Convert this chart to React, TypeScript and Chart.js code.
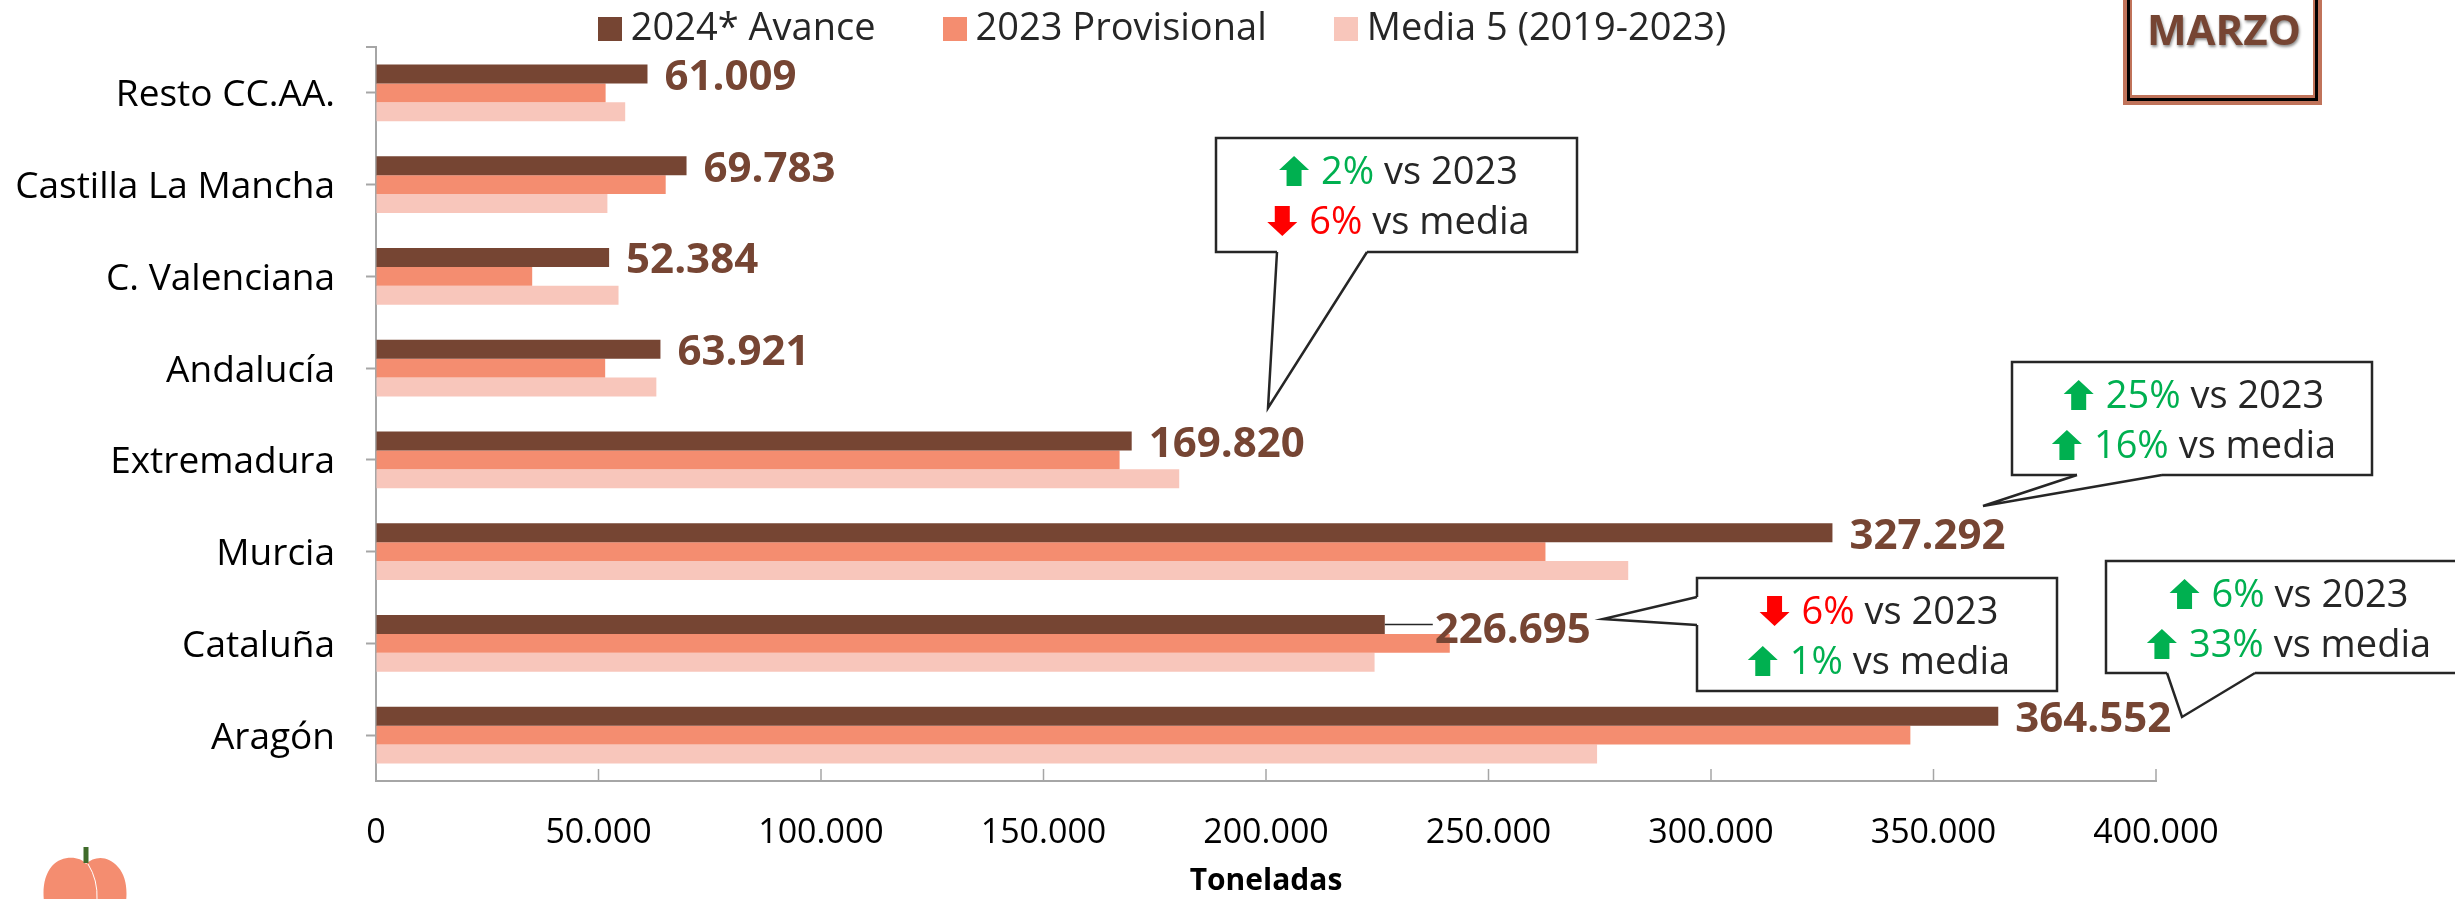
import React, { useEffect, useRef } from "react";
import { Chart, registerables } from "chart.js";

Chart.register(...registerables);

const categories = ["Resto CC.AA.", "Castilla La Mancha", "C. Valenciana", "Andalucía", "Extremadura", "Murcia", "Cataluña", "Aragón"];
const seriesNames = ["2024* Avance", "2023 Provisional", "Media 5 (2019-2023)"];
const avance2024 = [61009, 69783, 52384, 63921, 169820, 327292, 226695, 364552];
const provisional2023 = [51600, 65100, 35100, 51500, 167100, 262800, 241300, 344800];
const media5 = [56000, 52000, 54500, 63000, 180500, 281400, 224400, 274400];
const xTickLabels = ["0", "50.000", "100.000", "150.000", "200.000", "250.000", "300.000", "350.000", "400.000"];
const dataLabels = ["61.009", "69.783", "52.384", "63.921", "169.820", "327.292", "226.695", "364.552"];
const axisTitle = "Toneladas";
const monthLabel = "MARZO";

const DARK = "#764533";
const MID = "#F48D70";
const LIGHT = "#F8C6BB";
const GREEN = "#00B050";
const RED = "#FF0000";
const INK = "#262626";
const AXIS = "#A6A6A6";
const FONT = '"Open Sans"';
const seriesColors = [DARK, MID, LIGHT];

type Line = { up: boolean; pct: string; rest: string };
type Callout = { box: number[]; tail: number[][]; lines: Line[] };

const callouts: Callout[] = [
  {
    box: [1216, 138, 1577, 252],
    tail: [[1277, 252], [1268, 408], [1367, 252]],
    lines: [{ up: true, pct: "2%", rest: " vs 2023" }, { up: false, pct: "6%", rest: " vs media" }],
  },
  {
    box: [2012, 362, 2372, 475],
    tail: [[2077, 475], [1983, 506], [2162, 475]],
    lines: [{ up: true, pct: "25%", rest: " vs 2023" }, { up: true, pct: "16%", rest: " vs media" }],
  },
  {
    box: [1697, 578, 2057, 691],
    tail: [[1697, 597], [1603, 619], [1697, 625]],
    lines: [{ up: false, pct: "6%", rest: " vs 2023" }, { up: true, pct: "1%", rest: " vs media" }],
  },
  {
    box: [2106, 561, 2468, 673],
    tail: [[2167, 673], [2182, 717], [2255, 673]],
    lines: [{ up: true, pct: "6%", rest: " vs 2023" }, { up: true, pct: "33%", rest: " vs media" }],
  },
];

function swatch(color: string) {
  const c = document.createElement("canvas");
  c.width = 24;
  c.height = 24;
  const g = c.getContext("2d") as CanvasRenderingContext2D;
  g.fillStyle = color;
  g.fillRect(0, 0, 24, 24);
  return c;
}

function drawArrow(ctx: CanvasRenderingContext2D, x: number, cy: number, up: boolean) {
  const w = 30, h = 30, sw = 7.5, head = 14;
  const dir = up ? 1 : -1;
  const tip = cy - (dir * h) / 2;
  const neck = tip + dir * head;
  const end = cy + (dir * h) / 2;
  ctx.fillStyle = up ? GREEN : RED;
  ctx.beginPath();
  ctx.moveTo(x + w / 2, tip);
  ctx.lineTo(x + w, neck);
  ctx.lineTo(x + w / 2 + sw, neck);
  ctx.lineTo(x + w / 2 + sw, end);
  ctx.lineTo(x + w / 2 - sw, end);
  ctx.lineTo(x + w / 2 - sw, neck);
  ctx.lineTo(x, neck);
  ctx.closePath();
  ctx.fill();
}

function drawCallout(ctx: CanvasRenderingContext2D, c: Callout) {
  const [x0, y0, x1, y1] = c.box;
  ctx.save();
  ctx.strokeStyle = INK;
  ctx.lineWidth = 2.5;
  ctx.lineJoin = "miter";
  ctx.fillStyle = "#FFFFFF";
  ctx.beginPath();
  ctx.rect(x0, y0, x1 - x0, y1 - y0);
  ctx.fill();
  ctx.stroke();
  const [a, tip, b] = c.tail;
  ctx.beginPath();
  ctx.moveTo(a[0], a[1]);
  ctx.lineTo(tip[0], tip[1]);
  ctx.lineTo(b[0], b[1]);
  ctx.closePath();
  ctx.fill();
  ctx.strokeStyle = "#FFFFFF";
  ctx.lineWidth = 4;
  ctx.beginPath();
  ctx.moveTo(a[0], a[1]);
  ctx.lineTo(b[0], b[1]);
  ctx.stroke();
  ctx.strokeStyle = INK;
  ctx.lineWidth = 2.5;
  ctx.beginPath();
  ctx.moveTo(a[0], a[1]);
  ctx.lineTo(tip[0], tip[1]);
  ctx.lineTo(b[0], b[1]);
  ctx.stroke();
  ctx.font = `38px ${FONT}`;
  ctx.textBaseline = "middle";
  ctx.textAlign = "left";
  c.lines.forEach((l, i) => {
    const cy = y0 + 35 + i * 50;
    const pw = ctx.measureText(l.pct).width;
    const rw = ctx.measureText(l.rest).width;
    const total = 30 + 12 + pw + rw;
    let x = (x0 + x1) / 2 - total / 2 + 2;
    drawArrow(ctx, x, cy - 2, l.up);
    x += 42;
    ctx.fillStyle = l.up ? GREEN : RED;
    ctx.fillText(l.pct, x, cy);
    x += pw;
    ctx.fillStyle = INK;
    ctx.fillText(l.rest, x, cy);
  });
  ctx.restore();
}

function drawPeach(ctx: CanvasRenderingContext2D) {
  ctx.save();
  ctx.fillStyle = MID;
  ctx.beginPath();
  ctx.moveTo(86, 864);
  ctx.bezierCurveTo(80, 856, 62, 855, 52, 866);
  ctx.bezierCurveTo(40, 880, 42, 905, 50, 925);
  ctx.lineTo(120, 925);
  ctx.bezierCurveTo(128, 905, 130, 880, 118, 867);
  ctx.bezierCurveTo(108, 855, 94, 856, 86, 864);
  ctx.closePath();
  ctx.fill();
  ctx.strokeStyle = "#FFFFFF";
  ctx.lineWidth = 1;
  ctx.beginPath();
  ctx.moveTo(88, 864);
  ctx.quadraticCurveTo(98, 880, 97, 900);
  ctx.stroke();
  ctx.strokeStyle = "#3F6B2A";
  ctx.lineWidth = 5;
  ctx.beginPath();
  ctx.moveTo(86, 847);
  ctx.lineTo(86, 863);
  ctx.stroke();
  ctx.restore();
}

function drawMonthBox(ctx: CanvasRenderingContext2D) {
  ctx.save();
  const l = 2123, r = 2322, b = 105, t = -20;
  ctx.fillStyle = "#C0735A";
  ctx.fillRect(l, t, r - l, b - t);
  ctx.fillStyle = "#000000";
  ctx.fillRect(l + 4, t, r - l - 8, b - t - 4);
  ctx.fillStyle = "#C0735A";
  ctx.fillRect(l + 7, t, r - l - 14, b - t - 7);
  ctx.fillStyle = "#FFFFFF";
  ctx.fillRect(l + 9, t, r - l - 18, b - t - 10);
  ctx.font = `bold 42px ${FONT}`;
  ctx.textAlign = "center";
  ctx.textBaseline = "middle";
  ctx.shadowColor = "rgba(0,0,0,0.45)";
  ctx.shadowBlur = 3;
  ctx.shadowOffsetX = 1;
  ctx.shadowOffsetY = 2;
  ctx.fillStyle = DARK;
  ctx.fillText(monthLabel, 2224, 33);
  ctx.restore();
}

const decorations = {
  id: "decorations",
  afterLayout(chart: any) {
    const lg = chart.legend;
    if (lg) {
      lg.left = 0;
      lg.right = 2334;
      lg.top = -67;
      lg.bottom = 60;
    }
  },
  afterDraw(chart: any) {
    const ctx: CanvasRenderingContext2D = chart.ctx;
    const { chartArea, scales } = chart;
    ctx.save();
    ctx.strokeStyle = AXIS;
    ctx.lineWidth = 1.5;
    scales.x.ticks.forEach((_: any, i: number) => {
      const px = scales.x.getPixelForTick(i);
      ctx.beginPath();
      ctx.moveTo(px, chartArea.bottom);
      ctx.lineTo(px, chartArea.bottom - 12);
      ctx.stroke();
    });
    ctx.lineWidth = 2;
    ctx.beginPath();
    ctx.moveTo(chartArea.left - 10, chartArea.top);
    ctx.lineTo(chartArea.left, chartArea.top);
    ctx.stroke();
    ctx.restore();

    const meta = chart.getDatasetMeta(0);
    ctx.save();
    ctx.font = `bold 42px ${FONT}`;
    ctx.fillStyle = DARK;
    ctx.textAlign = "left";
    ctx.textBaseline = "middle";
    meta.data.forEach((bar: any, i: number) => {
      const isLeader = categories[i] === "Cataluña";
      const gap = isLeader ? 50 : 17;
      if (isLeader) {
        ctx.save();
        ctx.strokeStyle = INK;
        ctx.lineWidth = 1.5;
        ctx.beginPath();
        ctx.moveTo(bar.x, bar.y);
        ctx.lineTo(bar.x + gap - 2, bar.y);
        ctx.stroke();
        ctx.restore();
      }
      ctx.fillText(dataLabels[i], bar.x + gap, bar.y + (isLeader ? 7 : 4));
    });
    ctx.restore();

    callouts.forEach((c) => drawCallout(ctx, c));
    drawMonthBox(ctx);
    drawPeach(ctx);
  },
};

export default function App() {
  const ref = useRef<HTMLCanvasElement | null>(null);
  useEffect(() => {
    if (!ref.current) return;
    const swatches = seriesColors.map(swatch);
    const chart = new Chart(ref.current, {
      type: "bar",
      data: {
        labels: categories,
        datasets: [
          { label: seriesNames[0], data: avance2024, backgroundColor: DARK },
          { label: seriesNames[1], data: provisional2023, backgroundColor: MID },
          { label: seriesNames[2], data: media5, backgroundColor: LIGHT },
        ],
      },
      options: {
        indexAxis: "y",
        responsive: false,
        animation: false,
        maintainAspectRatio: false,
        layout: { padding: { left: 0, right: 299, top: 0, bottom: 0 } },
        datasets: { bar: { categoryPercentage: 0.621, barPercentage: 1 } },
        plugins: {
          tooltip: { enabled: false },
          legend: {
            position: "top",
            align: "center",
            maxHeight: 47,
            labels: {
              usePointStyle: true,
              pointStyleWidth: 4,
              boxHeight: 24,
              padding: 77,
              color: INK,
              font: { family: FONT, size: 38 },
              generateLabels: () =>
                seriesNames.map((text, i) => ({
                  text,
                  fillStyle: seriesColors[i],
                  strokeStyle: seriesColors[i],
                  lineWidth: 0,
                  hidden: false,
                  datasetIndex: i,
                  fontColor: INK,
                  pointStyle: swatches[i],
                })),
            },
          },
        },
        scales: {
          x: {
            min: 0,
            max: 400000,
            afterFit(s: any) { s.height = 118; },
            afterTickToLabelConversion(s: any) {
              s.ticks.forEach((t: any, i: number) => { t.label = xTickLabels[i]; });
            },
            ticks: {
              stepSize: 50000,
              color: "#000000",
              padding: 32,
              maxRotation: 0,
              autoSkip: false,
              font: { family: FONT, size: 34 },
            },
            grid: { display: true, drawOnChartArea: false, drawTicks: false, color: AXIS },
            border: { display: true, color: AXIS, width: 2 },
            title: {
              display: true,
              text: axisTitle,
              color: "#000000",
              font: { family: FONT, size: 30, weight: "bold" },
              padding: { top: 0, bottom: 0 },
            },
          },
          y: {
            afterFit(s: any) { s.width = 376; s.paddingTop = 0; s.paddingBottom = 0; },
            ticks: {
              color: "#000000",
              padding: 31,
              labelOffset: 3,
              autoSkip: false,
              font: { family: FONT, size: 37 },
            },
            grid: { offset: false, drawOnChartArea: false, tickLength: 10, color: AXIS, tickWidth: 2 },
            border: { display: true, color: AXIS, width: 2 },
          },
        },
      },
      plugins: [decorations],
    } as any);
    return () => chart.destroy();
  }, []);
  return (
    <div style={{ position: "fixed", left: 0, top: 0, width: 2455, height: 899, background: "#FFFFFF", overflow: "hidden" }}>
      <canvas ref={ref} width={2455} height={899} style={{ display: "block" }} />
    </div>
  );
}
